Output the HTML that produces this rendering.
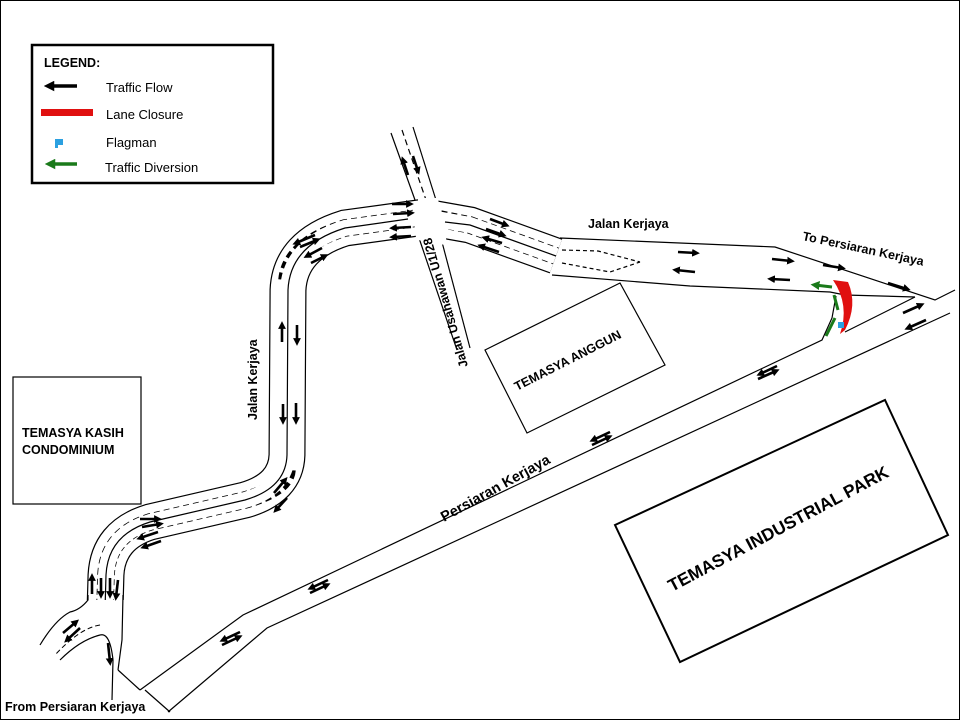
<!DOCTYPE html>
<html><head><meta charset="utf-8"><style>
html,body{margin:0;padding:0;background:#fff}
svg{display:block}
text{font-family:"Liberation Sans",Arial,sans-serif;font-weight:bold;fill:#000}
text.n{font-weight:normal}
</style></head><body>
<svg width="960" height="720" viewBox="0 0 960 720" xmlns="http://www.w3.org/2000/svg">
<defs>
<marker id="ah" viewBox="0 0 10 10" refX="5" refY="5" markerWidth="3" markerHeight="3" orient="auto-start-reverse"><path d="M0,0 L10,5 L0,10 z" fill="#000"/></marker>
<marker id="gh" viewBox="0 0 10 10" refX="5" refY="5" markerWidth="3" markerHeight="3" orient="auto-start-reverse"><path d="M0,0 L10,5 L0,10 z" fill="#1a7a1a"/></marker>
</defs>
<rect x="0.5" y="0.5" width="959" height="719" fill="#fff" stroke="#000" stroke-width="1"/>

<g fill="none" stroke="#000" stroke-width="1.2">
<polyline points="140,690 243,615 822,340 832,318 836,296"/>
<polyline points="168,712 267,628 950,313"/>
<polyline points="845,332 915,297"/>
<line x1="145" y1="690" x2="170" y2="712"/>
<line x1="118" y1="670" x2="140" y2="690"/>
<polyline points="560,238 775,247 935,300 955,290"/>
<polyline points="552,275 690,286 830,292 845,295 915,297"/>
<polyline points="562,250 598,251 640,262" stroke-dasharray="4,3"/>
<polyline points="562,263 610,272 640,262" stroke-dasharray="4,3"/>
<line x1="391" y1="133" x2="415" y2="200"/>
<line x1="413" y1="127" x2="436" y2="200"/>
<line x1="402" y1="130" x2="426" y2="200" stroke-dasharray="6,4"/>
<line x1="419" y1="238" x2="457" y2="350"/>
<line x1="442" y1="242" x2="470" y2="348"/>
</g>

<g fill="none">
<path d="M105,610 L106,575 Q108,535 150,522 L245,500 Q286,488 287,455 L288,290 Q290,245 345,228 L425,217 L470,225 L556,256" stroke="#000" stroke-width="37"/>
<path d="M105,610 L106,575 Q108,535 150,522 L245,500 Q286,488 287,455 L288,290 Q290,245 345,228 L425,217 L470,225 L556,256" stroke="#fff" stroke-width="34.6"/>
<path d="M105,605 L106,575 Q108,535 150,522 L245,500 Q286,488 287,470 M287,280 Q290,245 345,228 L425,217 M440,219 L470,225 L556,256" stroke="#000" stroke-width="17.5" stroke-dasharray="6,4"/>
<path d="M105,610 L106,575 Q108,535 150,522 L245,500 Q286,488 287,455 L288,290 Q290,245 345,228 L425,217 L470,225 L556,256" stroke="#fff" stroke-width="16"/>
<path d="M105,610 L106,575 Q108,535 150,522 L245,500 Q286,488 287,455 L288,290 Q290,245 345,228 L408,219 M445,222 L470,225 L556,256" stroke="#000" stroke-width="1.2"/>
<polygon points="418,198 438,198 445,245 418,240" fill="#fff" stroke="none"/>
<polygon points="412,202 440,202 447,244 416,238" fill="#fff" stroke="none"/>
<rect x="85" y="600" width="40" height="30" fill="#fff" stroke="none"/>
<path d="M88,595 L88,600 Q80,610 70,612 Q55,620 40,645" stroke="#000" stroke-width="1.2"/>
<path d="M100,635 Q80,640 60,660" stroke="#000" stroke-width="1.2"/>
<path d="M100,625 Q80,628 55,655" stroke="#000" stroke-width="1" stroke-dasharray="5,3"/>
<path d="M100,635 Q110,632 113,660 L112,700" stroke="#000" stroke-width="1.2"/>
<path d="M123,595 L122,640 L118,670" stroke="#000" stroke-width="1.2"/>
</g>

<g fill="none" stroke="#000" stroke-width="1.2">
<rect x="13" y="377" width="128" height="127"/>
<polygon points="485,350 620,283 665,365 527,433"/>
<polygon points="615,525 885,400 948,535 680,662" stroke-width="2"/>
</g>

<path d="M833,280 L848,282 Q858,305 845,330 L840,334 Q850,305 833,280 z" fill="#e01010"/>
<rect x="838" y="322" width="6" height="6" fill="#2ba0e0"/>
<g stroke="#1a7a1a" stroke-width="3" fill="none">
<line x1="832" y1="287" x2="815" y2="285" marker-end="url(#gh)"/>
<line x1="834" y1="295" x2="838" y2="310"/>
<line x1="835" y1="318" x2="826" y2="336"/>
</g>

<g stroke="#000" stroke-width="2.6" fill="none" marker-end="url(#ah)">
<line x1="678" y1="252" x2="696" y2="253"/>
<line x1="695" y1="272" x2="676" y2="270"/>
<line x1="772" y1="259" x2="791" y2="261"/>
<line x1="790" y1="280" x2="771" y2="279"/>
<line x1="823" y1="265" x2="842" y2="268"/>
<line x1="888" y1="283" x2="907" y2="289"/>
<line x1="903" y1="313" x2="921" y2="305"/>
<line x1="926" y1="320" x2="908" y2="328"/>
<line x1="777" y1="366" x2="760" y2="374"/>
<line x1="758" y1="379" x2="776" y2="371"/>
<line x1="610" y1="432" x2="593" y2="440"/>
<line x1="592" y1="445" x2="609" y2="437"/>
<line x1="328" y1="580" x2="311" y2="588"/>
<line x1="310" y1="593" x2="327" y2="585"/>
<line x1="240" y1="632" x2="223" y2="640"/>
<line x1="222" y1="645" x2="239" y2="637"/>
<line x1="408" y1="175" x2="403" y2="160"/>
<line x1="413" y1="156" x2="418" y2="171"/>
<line x1="392" y1="204" x2="410" y2="204"/>
<line x1="393" y1="214" x2="411" y2="213"/>
<line x1="411" y1="227" x2="393" y2="228"/>
<line x1="411" y1="236" x2="393" y2="237"/>
<line x1="490" y1="219" x2="506" y2="225"/>
<line x1="486" y1="229" x2="503" y2="235"/>
<line x1="502" y1="243" x2="485" y2="238"/>
<line x1="499" y1="252" x2="481" y2="246"/>
<line x1="315" y1="235" x2="296" y2="243"/>
<line x1="300" y1="247" x2="317" y2="240"/>
<line x1="322" y1="248" x2="307" y2="256"/>
<line x1="311" y1="263" x2="325" y2="256"/>
<line x1="282" y1="342" x2="282" y2="325"/>
<line x1="297" y1="325" x2="297" y2="342"/>
<line x1="283" y1="404" x2="283" y2="421"/>
<line x1="296" y1="403" x2="296" y2="421"/>
<line x1="274" y1="493" x2="285" y2="480"/>
<line x1="287" y1="498" x2="276" y2="510"/>
<line x1="140" y1="519" x2="158" y2="519"/>
<line x1="142" y1="527" x2="160" y2="524"/>
<line x1="158" y1="532" x2="140" y2="538"/>
<line x1="161" y1="541" x2="144" y2="547"/>
<line x1="92" y1="594" x2="92" y2="577"/>
<line x1="101" y1="578" x2="101" y2="595"/>
<line x1="110" y1="578" x2="110" y2="595"/>
<line x1="118" y1="580" x2="116" y2="597"/>
<line x1="63" y1="633" x2="76" y2="622"/>
<line x1="80" y1="628" x2="67" y2="640"/>
<line x1="108" y1="643" x2="110" y2="662"/>
</g>

<rect x="32" y="45" width="241" height="138" fill="#fff" stroke="#000" stroke-width="2.5"/>
<text x="44" y="67" font-size="12.5">LEGEND:</text>
<line x1="49" y1="86" x2="77" y2="86" stroke="#000" stroke-width="3.5" marker-start="url(#ah)"/>
<rect x="41" y="109" width="52" height="7" fill="#e01010"/>
<rect x="55" y="139" width="3" height="9" fill="#2ba0e0"/><rect x="55" y="139" width="8" height="6" fill="#2ba0e0"/>
<line x1="50" y1="164" x2="77" y2="164" stroke="#1a7a1a" stroke-width="3.5" marker-start="url(#gh)"/>
<text class="n" x="106" y="92" font-size="13">Traffic Flow</text>
<text class="n" x="106" y="119" font-size="13">Lane Closure</text>
<text class="n" x="106" y="147" font-size="13">Flagman</text>
<text class="n" x="105" y="172" font-size="13">Traffic Diversion</text>

<text x="22" y="437" font-size="12.5">TEMASYA KASIH</text>
<text x="22" y="454" font-size="12.5">CONDOMINIUM</text>
<text x="588" y="228" font-size="12.5">Jalan Kerjaya</text>
<text x="802" y="240" font-size="12.5" transform="rotate(12 802 240)">To Persiaran Kerjaya</text>
<text x="0" y="0" font-size="12.5" transform="translate(468,366) rotate(-106)">Jalan Usahawan U1/28</text>
<text x="0" y="0" font-size="12.5" transform="translate(257,420) rotate(-90)">Jalan Kerjaya</text>
<text x="0" y="0" font-size="12.5" transform="translate(517,391) rotate(-27)">TEMASYA ANGGUN</text>
<text x="0" y="0" font-size="14.5" transform="translate(444,522) rotate(-29)">Persiaran Kerjaya</text>
<text x="0" y="0" font-size="17.5" transform="translate(672,592) rotate(-28)">TEMASYA INDUSTRIAL PARK</text>
<text x="5" y="711" font-size="12.5">From Persiaran Kerjaya</text>
</svg>
</body></html>
